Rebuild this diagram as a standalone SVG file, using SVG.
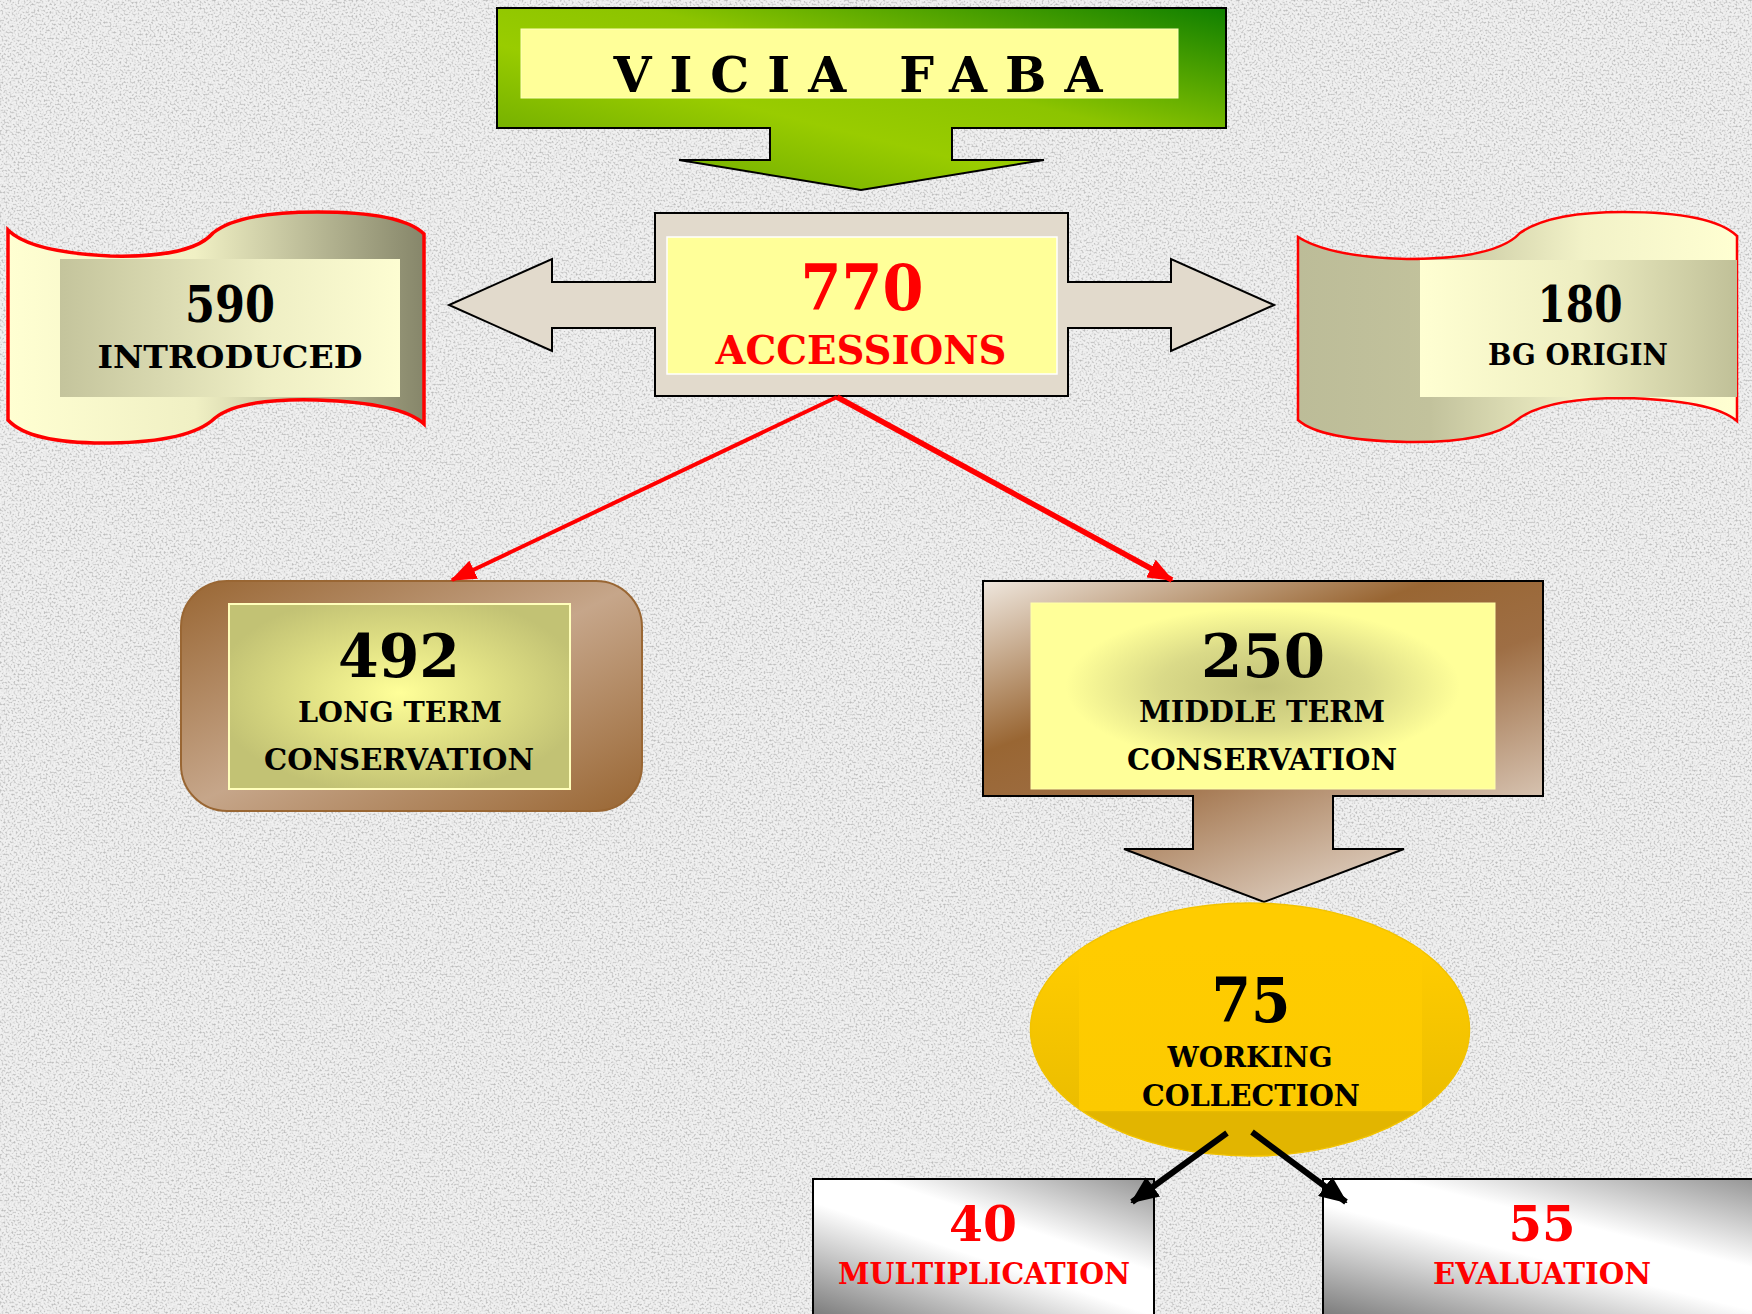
<svg xmlns="http://www.w3.org/2000/svg" width="1752" height="1314" viewBox="0 0 1752 1314">
<defs>
<style>
text{font-family:"DejaVu Serif","Liberation Serif",serif;font-weight:bold;text-anchor:middle}
.blk{fill:#000}
.red{fill:#ff0000}
.edge{stroke:#000;stroke-width:2}
.conRed{stroke:#ff0000;fill:none}
.conBlk{stroke:#000;stroke-width:6;fill:none}
</style>
<filter id="noise" x="0" y="0" width="100%" height="100%">
<feTurbulence type="fractalNoise" baseFrequency="0.5" numOctaves="3" seed="7" result="n"/>
<feColorMatrix in="n" type="matrix" values="0 0 0 0 0.5  0 0 0 0 0.5  0 0 0 0 0.5  -3 0 0 0 1.62"/>
</filter>
<linearGradient id="gGreen" x1="1" y1="0" x2="0" y2="1">
<stop offset="0" stop-color="#0f7f00"/>
<stop offset="0.4" stop-color="#8cc400"/>
<stop offset="0.6" stop-color="#99cc00"/>
<stop offset="1" stop-color="#5c9e00"/>
</linearGradient>
<linearGradient id="gBanL" x1="0" y1="0" x2="1" y2="0">
<stop offset="0" stop-color="#ffffd2"/>
<stop offset="0.45" stop-color="#f0f0c4"/>
<stop offset="1" stop-color="#86866a"/>
</linearGradient>
<linearGradient id="gBanLin" x1="0" y1="0" x2="1" y2="0">
<stop offset="0" stop-color="#c4c49c"/>
<stop offset="0.6" stop-color="#eeeec4"/>
<stop offset="1" stop-color="#fdfdd2"/>
</linearGradient>
<linearGradient id="gBanR" x1="0" y1="0" x2="1" y2="0">
<stop offset="0" stop-color="#bcbc98"/>
<stop offset="0.3" stop-color="#c2c29c"/>
<stop offset="0.65" stop-color="#f2f2c8"/>
<stop offset="1" stop-color="#ffffd2"/>
</linearGradient>
<linearGradient id="gBanRin" x1="0" y1="0" x2="1" y2="0">
<stop offset="0" stop-color="#ffffd2"/>
<stop offset="0.5" stop-color="#eeeec2"/>
<stop offset="1" stop-color="#c0c098"/>
</linearGradient>
<linearGradient id="gLong" x1="0" y1="0" x2="1" y2="1">
<stop offset="0" stop-color="#996633"/>
<stop offset="0.5" stop-color="#c6a68a"/>
<stop offset="1" stop-color="#996633"/>
</linearGradient>
<radialGradient id="gLongIn" cx="0.5" cy="0.48" r="0.55">
<stop offset="0" stop-color="#ffff99"/>
<stop offset="0.5" stop-color="#e0e084"/>
<stop offset="1" stop-color="#c2c274"/>
</radialGradient>
<linearGradient id="gMid" gradientUnits="userSpaceOnUse" x1="983" y1="581" x2="1127" y2="956">
<stop offset="0" stop-color="#efe7de"/>
<stop offset="0.4" stop-color="#996633"/>
<stop offset="0.62" stop-color="#9e6e44"/>
<stop offset="1" stop-color="#d6c2b0"/>
</linearGradient>
<radialGradient id="gMidIn" cx="0.5" cy="0.45" r="0.5">
<stop offset="0" stop-color="#c2c278"/>
<stop offset="0.45" stop-color="#dada88"/>
<stop offset="0.85" stop-color="#ffff99"/>
<stop offset="1" stop-color="#ffff99"/>
</radialGradient>
<linearGradient id="gEll" x1="0" y1="0" x2="0" y2="1">
<stop offset="0" stop-color="#ffcc00"/>
<stop offset="0.2" stop-color="#ffcc00"/>
<stop offset="0.82" stop-color="#ebbd00"/>
<stop offset="0.83" stop-color="#e2b500"/>
<stop offset="1" stop-color="#e2b500"/>
</linearGradient>
<linearGradient id="gEllIn" x1="0" y1="0" x2="0" y2="1">
<stop offset="0" stop-color="#ffcc00"/>
<stop offset="1" stop-color="#fcca00"/>
</linearGradient>
<clipPath id="clipEll"><ellipse cx="1250" cy="1029.5" rx="219.5" ry="126.5"/></clipPath>
<linearGradient id="gMetA" gradientUnits="userSpaceOnUse" x1="772" y1="1303" x2="854" y2="1057">
<stop offset="0" stop-color="#7a7a7a"/>
<stop offset="0.42" stop-color="#ffffff"/>
<stop offset="0.58" stop-color="#ffffff"/>
<stop offset="1" stop-color="#7a7a7a"/>
</linearGradient>
<linearGradient id="gMetB" gradientUnits="userSpaceOnUse" x1="1299" y1="1311" x2="1361" y2="1059">
<stop offset="0" stop-color="#7a7a7a"/>
<stop offset="0.42" stop-color="#ffffff"/>
<stop offset="0.58" stop-color="#ffffff"/>
<stop offset="1" stop-color="#7a7a7a"/>
</linearGradient>
<marker id="arRed" markerUnits="userSpaceOnUse" markerWidth="26" markerHeight="20" viewBox="0 0 26 20" refX="24" refY="10" orient="auto">
<path d="M0,0 L26,10 L0,20 Z" fill="#ff0000"/>
</marker>
<marker id="arBlk" markerUnits="userSpaceOnUse" markerWidth="28" markerHeight="24" viewBox="0 0 28 24" refX="26" refY="12" orient="auto">
<path d="M0,0 L28,12 L0,24 Z" fill="#000"/>
</marker>
</defs>

<rect x="0" y="0" width="1752" height="1314" fill="#f0f0f0"/>
<rect x="0" y="0" width="1752" height="1314" filter="url(#noise)"/>

<g id="vicia-faba">
<path class="edge" d="M497,8 H1226 V128 H952 V160 H1044 L861,190 L679,160 H770 V128 H497 Z" fill="url(#gGreen)"/>
<rect x="521" y="29" width="657" height="69" fill="#ffff99" stroke="#ffffbb" stroke-width="1"/>
<text class="blk" x="858" y="92" font-size="49" textLength="489" lengthAdjust="spacing">VICIA  FABA</text>
</g>

<g id="accessions">
<path class="edge" d="M655,213 H1068 V282 H1171 V259 L1274,305 L1171,351 V328 H1068 V396 H655 V328 H552 V351 L449,305 L552,259 V282 H655 Z" fill="#e2dacc"/>
<rect x="667" y="237" width="390" height="137" fill="#ffff99" stroke="#ffffff" stroke-width="1.5"/>
<text class="red" x="862" y="310" font-size="64" textLength="123" lengthAdjust="spacingAndGlyphs">770</text>
<text class="red" x="861" y="364" font-size="40" textLength="291" lengthAdjust="spacingAndGlyphs">ACCESSIONS</text>
</g>

<g id="introduced">
<path d="M8,230 Q30,252 110,256 Q192,258 213,233 Q238,212 317,212 Q402,212 424,234 L424,424 Q402,403 317,400 Q240,398 215,418 Q190,442 110,443 Q30,444 8,420 Z" fill="url(#gBanL)" stroke="#ff0000" stroke-width="3.5"/>
<rect x="60" y="259" width="340" height="138" fill="url(#gBanLin)"/>
<text class="blk" x="230" y="322" font-size="50" textLength="90" lengthAdjust="spacingAndGlyphs">590</text>
<text class="blk" x="230" y="368" font-size="31" textLength="265" lengthAdjust="spacingAndGlyphs">INTRODUCED</text>
</g>

<g id="bg-origin">
<path d="M1298,237 Q1330,257 1407,259 Q1496,259 1520,233 Q1550,212 1623,212 Q1712,212 1737,236 L1737,421 Q1712,400 1623,398 Q1545,398 1517,420 Q1490,443 1407,442 Q1320,440 1298,420 Z" fill="url(#gBanR)" stroke="#ff0000" stroke-width="2.5"/>
<rect x="1420" y="260" width="317" height="137" fill="url(#gBanRin)"/>
<text class="blk" x="1580" y="322" font-size="50" textLength="85" lengthAdjust="spacingAndGlyphs">180</text>
<text class="blk" x="1578" y="365" font-size="29" textLength="180" lengthAdjust="spacingAndGlyphs">BG ORIGIN</text>
</g>

<g id="long-term">
<rect x="181" y="581" width="461" height="230" rx="46" ry="46" fill="url(#gLong)" stroke="#996633" stroke-width="2"/>
<rect x="229" y="604" width="341" height="185" fill="url(#gLongIn)" stroke="#ffffbb" stroke-width="2"/>
<text class="blk" x="399" y="677" font-size="60" textLength="122" lengthAdjust="spacingAndGlyphs">492</text>
<text class="blk" x="400" y="722" font-size="28" textLength="204" lengthAdjust="spacingAndGlyphs">LONG TERM</text>
<text class="blk" x="399" y="770" font-size="29" textLength="270" lengthAdjust="spacingAndGlyphs">CONSERVATION</text>
</g>

<g id="middle-term">
<path class="edge" d="M983,581 H1543 V796 H1333 V849 H1404 L1264,902 L1124,849 H1193 V796 H983 Z" fill="url(#gMid)"/>
<rect x="1031" y="603" width="464" height="186" fill="url(#gMidIn)" stroke="#ffffaa" stroke-width="1"/>
<text class="blk" x="1263" y="677" font-size="60" textLength="124" lengthAdjust="spacingAndGlyphs">250</text>
<text class="blk" x="1262" y="722" font-size="29" textLength="246" lengthAdjust="spacingAndGlyphs">MIDDLE TERM</text>
<text class="blk" x="1262" y="770" font-size="29" textLength="270" lengthAdjust="spacingAndGlyphs">CONSERVATION</text>
</g>

<g id="working-collection">
<ellipse cx="1250" cy="1029.5" rx="219.5" ry="126.5" fill="url(#gEll)" stroke="#f2c300" stroke-width="1.5"/>
<rect x="1079" y="945" width="343" height="166" fill="url(#gEllIn)" clip-path="url(#clipEll)"/>
<text class="blk" x="1251" y="1022" font-size="61" textLength="79" lengthAdjust="spacingAndGlyphs">75</text>
<text class="blk" x="1250" y="1067" font-size="28" textLength="165" lengthAdjust="spacingAndGlyphs">WORKING</text>
<text class="blk" x="1251" y="1106" font-size="29" textLength="218" lengthAdjust="spacingAndGlyphs">COLLECTION</text>
</g>

<g id="multiplication">
<rect class="edge" x="813" y="1179" width="341" height="145" fill="url(#gMetA)"/>
<text class="red" x="983" y="1241" font-size="49" textLength="68" lengthAdjust="spacingAndGlyphs">40</text>
<text class="red" x="984" y="1284" font-size="29" textLength="292" lengthAdjust="spacingAndGlyphs">MULTIPLICATION</text>
</g>

<g id="evaluation">
<rect class="edge" x="1323" y="1179" width="440" height="145" fill="url(#gMetB)"/>
<text class="red" x="1542" y="1241" font-size="49" textLength="67" lengthAdjust="spacingAndGlyphs">55</text>
<text class="red" x="1542" y="1284" font-size="29" textLength="218" lengthAdjust="spacingAndGlyphs">EVALUATION</text>
</g>

<g id="connectors">
<line class="conRed" x1="837" y1="397" x2="452" y2="580" stroke-width="4" marker-end="url(#arRed)"/>
<line class="conRed" x1="837" y1="397" x2="1172" y2="580" stroke-width="5.5" marker-end="url(#arRed)"/>
<line class="conBlk" x1="1227" y1="1133" x2="1132" y2="1202" marker-end="url(#arBlk)"/>
<line class="conBlk" x1="1252" y1="1132" x2="1346" y2="1202" marker-end="url(#arBlk)"/>
</g>
</svg>
